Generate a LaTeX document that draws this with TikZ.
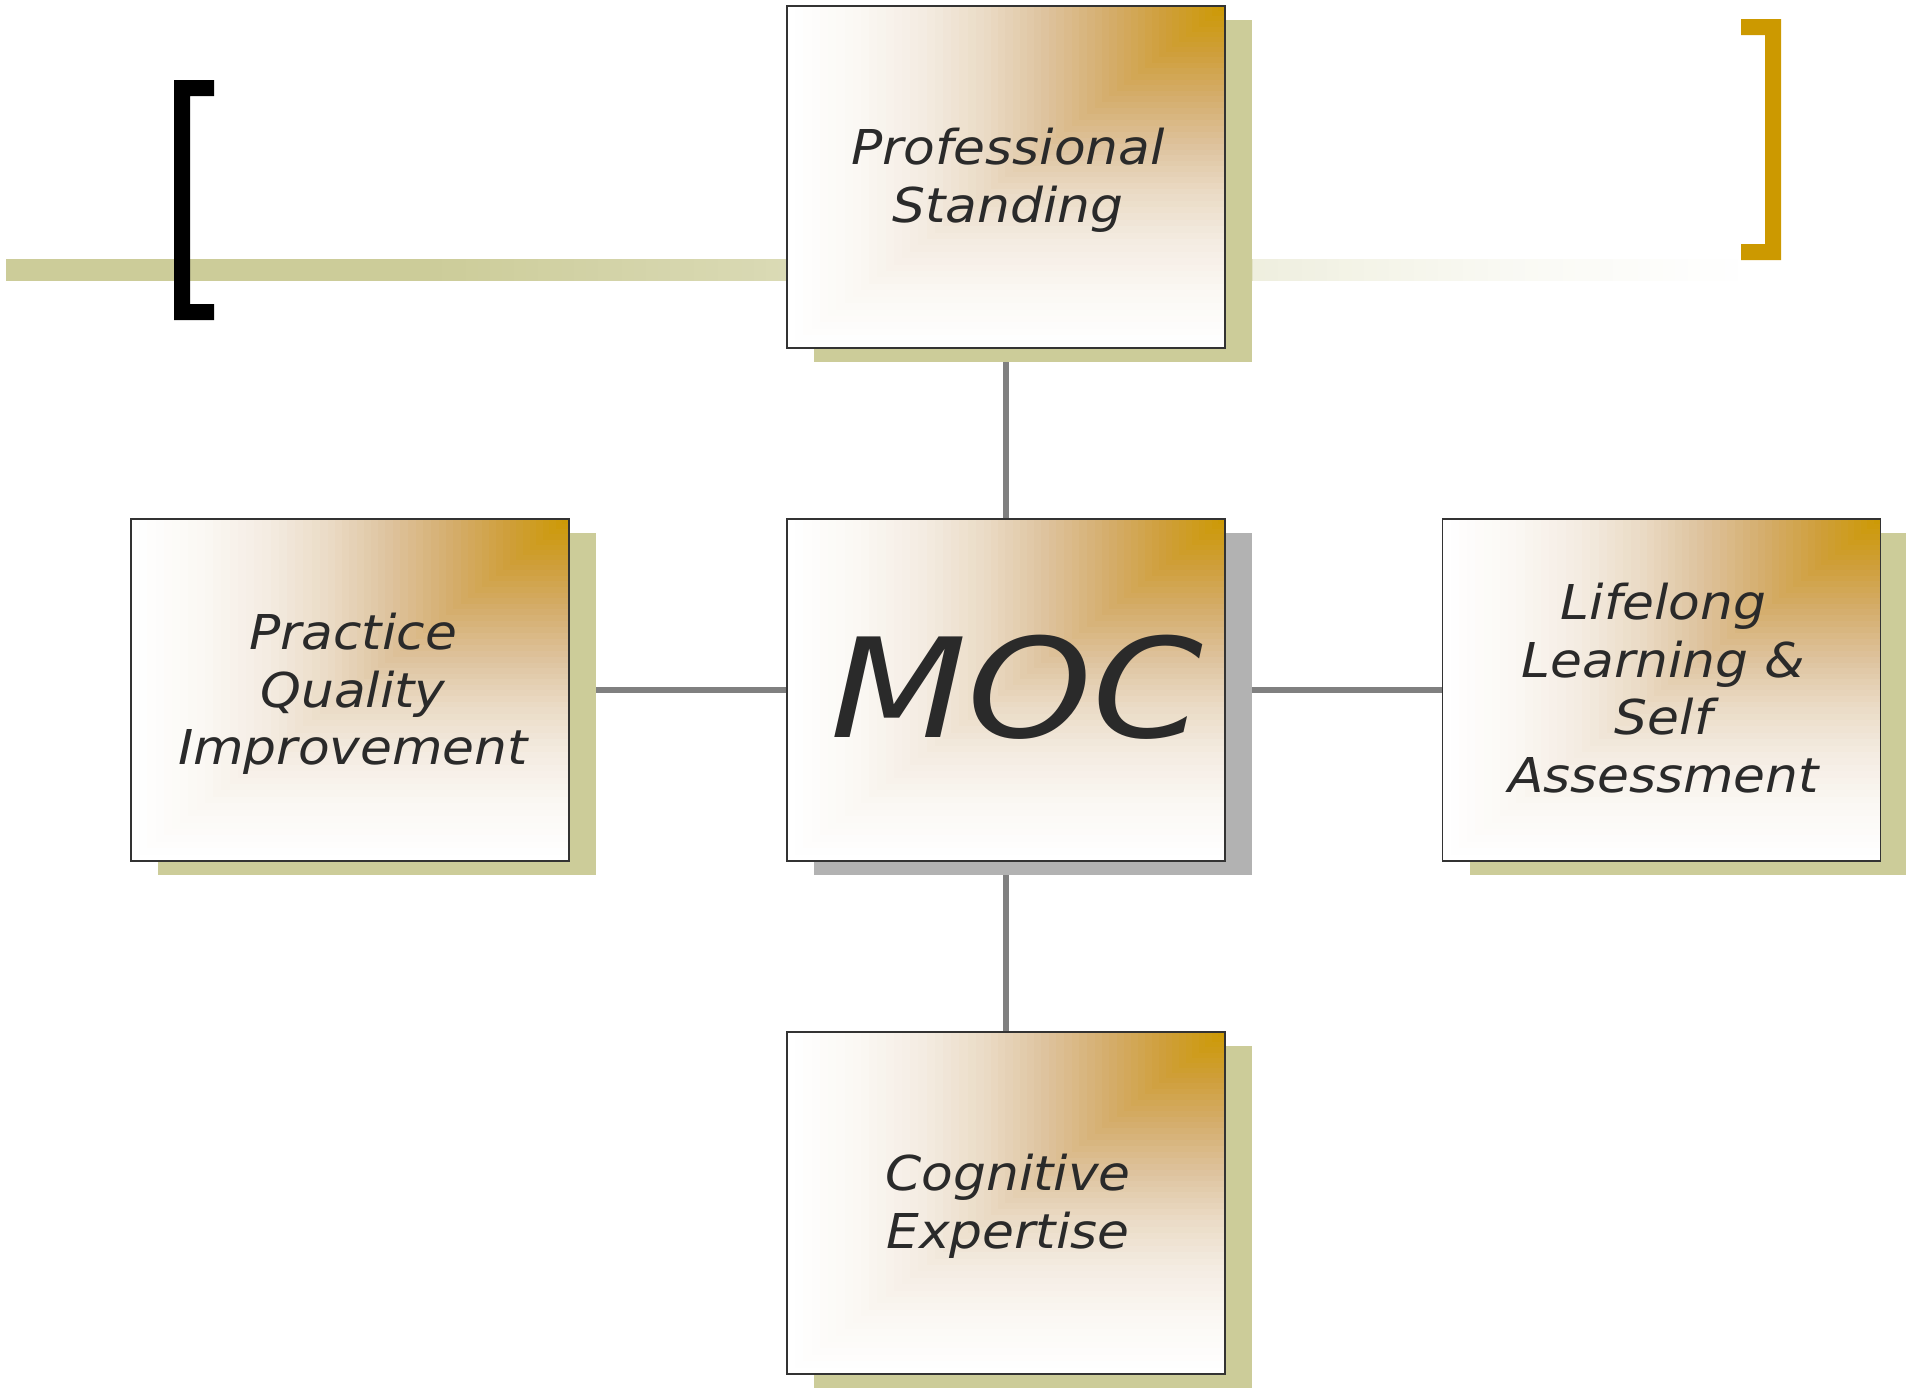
\documentclass[tikz,border=0pt]{standalone}
\usepackage{fontspec}
\setmainfont{DejaVu Sans}[FakeStretch=1.08]
\newfontfamily\mocfont{DejaVu Sans}[FakeStretch=1.15]
\usetikzlibrary{calc,shadows,backgrounds}
\definecolor{olivebar}{HTML}{CCCC99}
\colorlet{barA}{olivebar!72!white}
\colorlet{barB}{olivebar!32!white}
\colorlet{barC}{olivebar!12!white}
\colorlet{barM}{olivebar!55!white}
\definecolor{gold}{HTML}{CC9900}
\definecolor{mocshadow}{HTML}{B2B2B2}
\definecolor{linegray}{HTML}{808080}
\definecolor{boxline}{HTML}{333333}
\definecolor{txt}{HTML}{2A2A2A}
\definecolor{gA}{HTML}{CF9F3C}
\definecolor{gB}{HTML}{D5AE6E}
\definecolor{gC}{HTML}{DEC39E}
\definecolor{gD}{HTML}{EADAC4}
\definecolor{gE}{HTML}{F4ECE2}
\definecolor{gF}{HTML}{FBF8F4}
\newcommand\gseg[5]{%
  \foreach \k in {#5,...,1}{%
    \pgfmathsetmacro\gT{#1+(#2-#1)*\k/#5}%
    \pgfmathsetmacro\gP{100*\k/#5}%
    \fill[#4!\gP!#3] (path picture bounding box.north east) rectangle ($(path picture bounding box.north east)!\gT!(path picture bounding box.south west)$);
  }}
\newcommand\boxgrad{%
  \gseg{0.85}{1}{gF}{white}{8}%
  \gseg{0.70}{0.85}{gE}{gF}{8}%
  \gseg{0.55}{0.70}{gD}{gE}{8}%
  \gseg{0.42}{0.55}{gC}{gD}{8}%
  \gseg{0.28}{0.42}{gB}{gC}{8}%
  \gseg{0.15}{0.28}{gA}{gB}{8}%
  \gseg{0}{0.15}{gold}{gA}{10}}
\newcommand\barseg[5]{%
  \foreach \k in {1,...,#5}{%
    \pgfmathsetmacro\bxa{#1+(#2-#1)*(\k-1)/#5}%
    \pgfmathsetmacro\bxb{#1+(#2-#1)*\k/#5+1}%
    \pgfmathsetmacro\bP{100*(\k-0.5)/#5}%
    \fill[#4!\bP!#3] (\bxa,259) rectangle (\bxb,281);
  }}
\tikzset{
  mbox/.style={draw=boxline, line width=0.85pt, fill=white,
    minimum width=219pt, minimum height=171pt, inner sep=0pt,
    path picture={\boxgrad},
    general shadow={shadow xshift=13.5pt, shadow yshift=-7pt, fill=#1}},
  mbox/.default=olivebar,
  lbl/.style={align=center, text=txt, inner sep=0pt,
    font=\fontsize{24}{28.75}\selectfont\itshape},
  conn/.style={draw=linegray, line width=2.75pt},
}
\begin{document}
\begin{tikzpicture}[x=0.5pt, y=-0.5pt]
\useasboundingbox (0,0) rectangle (1906,1389);
\node[mbox] (prof) at (1006,177) {};
\node[mbox=mocshadow] (moc) at (1006,690) {};
\node[mbox] (prac) at (350,690) {};
\node[mbox] (life) at (1661.5,690) {};
\node[mbox] (cog) at (1006,1203) {};
\node[lbl] (profT) at ($(prof.center)+(2,3)$) {Professional\\Standing};
\node[lbl, font=\fontsize{69}{80}\selectfont\mocfont\itshape] (mocT) at ($(moc.center)+(11,-3)$) {MOC};
\node[lbl] (pracT) at ($(prac.center)+(3,4)$) {Practice\\Quality\\Improvement};
\node[lbl] (lifeT) at ($(life.center)+(2,-2)$) {Lifelong\\Learning \&\\Self\\Assessment};
\node[lbl] (cogT) at ($(cog.center)+(2,3)$) {Cognitive\\Expertise};
\begin{scope}[on background layer]
  \fill[olivebar] (6,259) rectangle (431,281);
  \barseg{430}{790}{olivebar}{barA}{30}
  \fill[barM] (789,259) rectangle (1254,281);
  \barseg{1253}{1500}{barB}{barC}{20}
  \barseg{1500}{1750}{barC}{white}{20}
  \draw[conn] (prof.center) -- (moc.center);
  \draw[conn] (moc.center) -- (cog.center);
  \draw[conn] (prac.center) -- (moc.center);
  \draw[conn] (moc.center) -- (life.center);
\end{scope}
\fill[black] (214,80) -- (174,80) -- (174,320) -- (214,320) -- (214,304) -- (190,304) -- (190,96) -- (214,96) -- cycle;
\fill[gold] (1741,19) -- (1781,19) -- (1781,260) -- (1741,260) -- (1741,244) -- (1765,244) -- (1765,35) -- (1741,35) -- cycle;
\end{tikzpicture}
\end{document}
